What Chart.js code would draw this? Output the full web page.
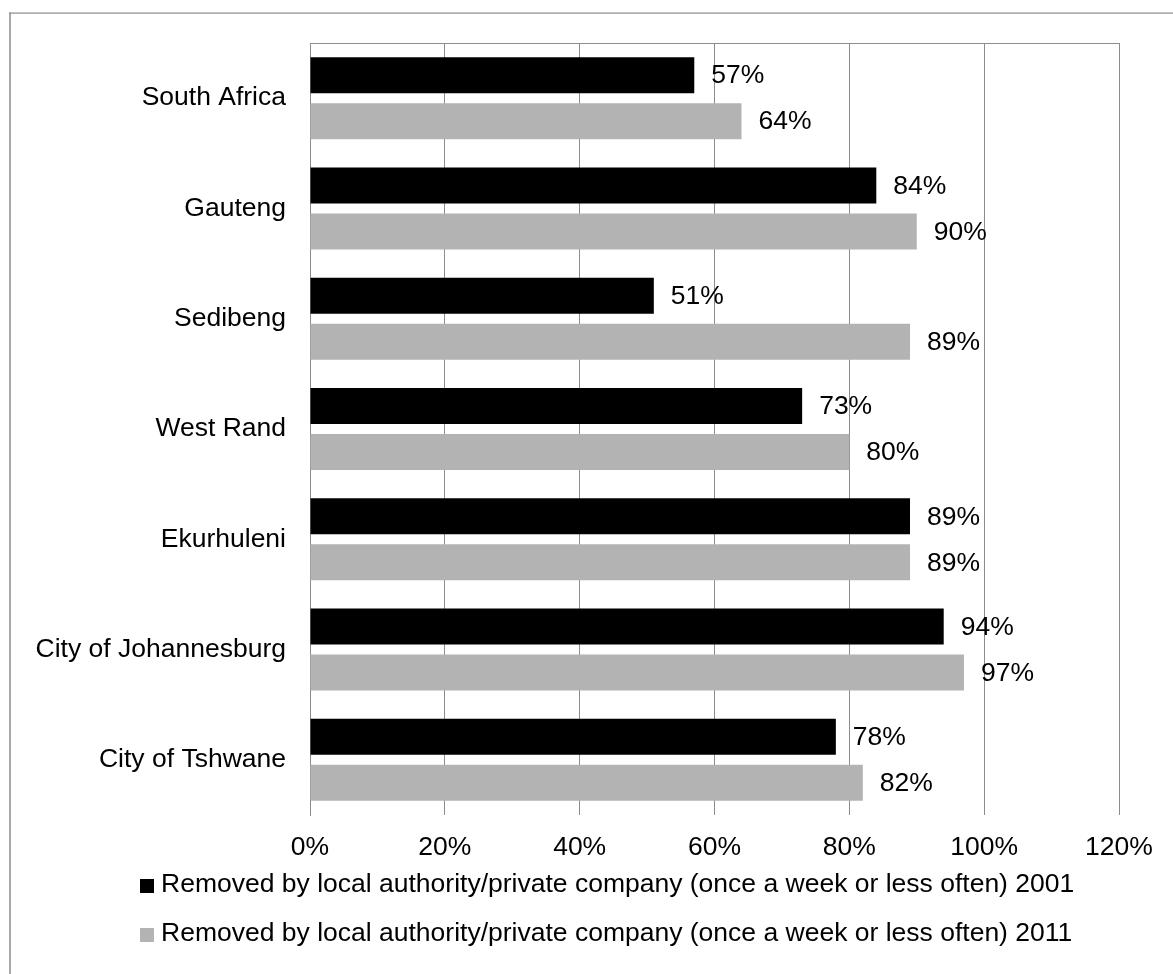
<!DOCTYPE html>
<html>
<head>
<meta charset="utf-8">
<title>Refuse removal 2001 and 2011</title>
<script src="https://cdn.jsdelivr.net/npm/chart.js@4/dist/chart.umd.min.js"></script>
<style>
  html, body { margin: 0; padding: 0; background: #ffffff; }
  #wrap { width: 1173px; height: 974px; }
</style>
</head>
<body>
<div id="wrap"><canvas id="chart" width="1173" height="974"></canvas></div>
<script>
// Regions and shares of households with refuse removed weekly
const categories = ['South Africa', 'Gauteng', 'Sedibeng', 'West Rand', 'Ekurhuleni', 'City of Johannesburg', 'City of Tshwane'];
const values2001 = [57, 84, 51, 73, 89, 94, 78];
const values2011 = [64, 90, 89, 80, 89, 97, 82];
const seriesLabels = [
  'Removed by local authority/private company (once a week or less often) 2001',
  'Removed by local authority/private company (once a week or less often) 2011'
];
const xTicks = [0, 20, 40, 60, 80, 100, 120];

const FONT = '"Liberation Sans", Arial, Helvetica, sans-serif';
const FONT_SIZE = 26.5;
const GRID = '#8c8c8c';

Chart.defaults.font.family = FONT;
Chart.defaults.font.size = FONT_SIZE;
Chart.defaults.color = '#000000';

// Outer frame and top edge of the plot area
const framePlugin = {
  id: 'frame',
  beforeDraw(chart) {
    const ctx = chart.ctx;
    ctx.save();
    ctx.fillStyle = '#ffffff';
    ctx.fillRect(0, 0, chart.width, chart.height);
    ctx.fillStyle = '#a8a8a8';
    ctx.fillRect(9, 12.5, 2, chart.height);
    ctx.fillStyle = '#8c8c8c';
    ctx.fillRect(9, 12.5, chart.width, 1.2);
    ctx.restore();
  },
  afterDatasetsDraw(chart) {
    const {ctx, chartArea} = chart;
    ctx.save();
    ctx.strokeStyle = GRID;
    ctx.lineWidth = 1;
    ctx.beginPath();
    ctx.moveTo(chartArea.left, Math.round(chartArea.top) + 0.5);
    ctx.lineTo(chartArea.right + 0.5, Math.round(chartArea.top) + 0.5);
    ctx.stroke();
    ctx.restore();
  }
};

// Percentage labels to the right of each bar
const valueLabels = {
  id: 'valueLabels',
  afterDatasetsDraw(chart) {
    const ctx = chart.ctx;
    ctx.save();
    ctx.font = FONT_SIZE + 'px ' + FONT;
    ctx.fillStyle = '#000000';
    ctx.textAlign = 'left';
    ctx.textBaseline = 'middle';
    chart.data.datasets.forEach((ds, i) => {
      const meta = chart.getDatasetMeta(i);
      meta.data.forEach((bar, j) => {
        ctx.fillText(ds.data[j] + '%', bar.x + 17, bar.y + 1);
      });
    });
    ctx.restore();
  }
};

// Legend stacked in two rows under the axis
const stackedLegend = {
  id: 'stackedLegend',
  afterDraw(chart) {
    const ctx = chart.ctx;
    ctx.save();
    ctx.font = FONT_SIZE + 'px ' + FONT;
    ctx.textAlign = 'left';
    ctx.textBaseline = 'alphabetic';
    const rows = [892, 941];
    chart.data.datasets.forEach((ds, i) => {
      const base = rows[i];
      ctx.fillStyle = ds.backgroundColor;
      ctx.fillRect(140, base - 13, 14, 14);
      ctx.fillStyle = '#000000';
      ctx.fillText(ds.label, 161, base);
    });
    ctx.restore();
  }
};

new Chart(document.getElementById('chart'), {
  type: 'bar',
  data: {
    labels: categories,
    datasets: [
      {
        label: seriesLabels[0],
        data: values2001,
        backgroundColor: '#000000',
        categoryPercentage: 0.834,
        barPercentage: 0.783
      },
      {
        label: seriesLabels[1],
        data: values2011,
        backgroundColor: '#b3b3b3',
        categoryPercentage: 0.834,
        barPercentage: 0.783
      }
    ]
  },
  options: {
    indexAxis: 'y',
    responsive: false,
    animation: false,
    layout: { padding: { left: 0, top: 43, right: 54, bottom: 99 } },
    plugins: {
      legend: { display: false },
      tooltip: { enabled: false }
    },
    scales: {
      x: {
        type: 'linear',
        position: 'bottom',
        min: 0,
        max: 120,
        afterBuildTicks(scale) {
          scale.ticks = xTicks.map(v => ({ value: v }));
        },
        afterFit(scale) { scale.height = 60; },
        ticks: {
          padding: 17,
          maxRotation: 0,
          callback: v => v + '%'
        },
        grid: { color: GRID, lineWidth: 1, drawTicks: false },
        border: { display: false }
      },
      y: {
        type: 'category',
        afterFit(scale) { scale.width = 310; },
        ticks: { padding: 24 },
        grid: { display: true, drawOnChartArea: false, drawTicks: false },
        border: { display: true, color: GRID, width: 1 }
      }
    }
  },
  plugins: [framePlugin, valueLabels, stackedLegend]
});
</script>
</body>
</html>
